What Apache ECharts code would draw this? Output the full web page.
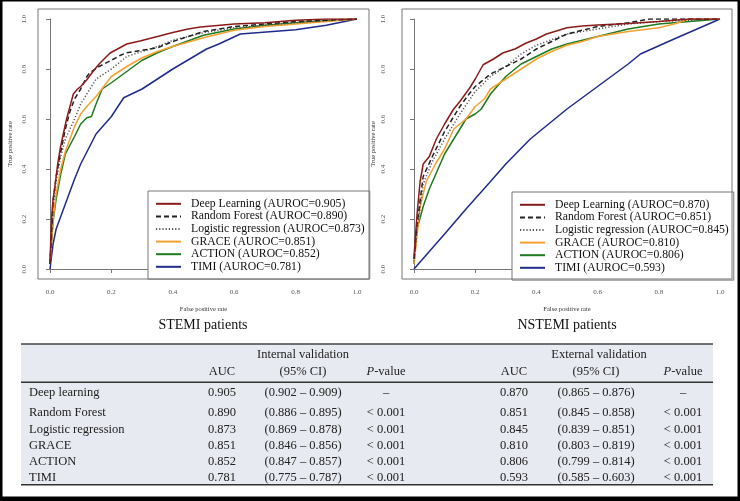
<!DOCTYPE html>
<html><head><meta charset="utf-8">
<script src="https://cdn.jsdelivr.net/npm/echarts@6/dist/echarts.min.js"></script>
<style>html,body{margin:0;padding:0;background:#fff}#c{width:740px;height:501px}</style>
</head><body><div id="c"></div>
<script>
// ---------- data ----------
const modelNames = ['Deep Learning','Random Forest','Logistic regression','GRACE','ACTION','TIMI'];
const stemiAuroc = [0.905, 0.890, 0.873, 0.851, 0.852, 0.781];
const nstemiAuroc = [0.870, 0.851, 0.845, 0.810, 0.806, 0.593];
const tickLabels = ['0.0','0.2','0.4','0.6','0.8','1.0'];

// ROC points [false positive rate, true positive rate]
const stemiDeep = [[0,0.03],[0.005,0.2],[0.01,0.28],[0.016,0.33],[0.025,0.42],[0.033,0.48],[0.045,0.55],[0.054,0.6],[0.065,0.65],[0.076,0.7],[0.09,0.72],[0.1,0.73],[0.12,0.757],[0.14,0.79],[0.16,0.82],[0.18,0.845],[0.196,0.864],[0.22,0.88],[0.25,0.9],[0.293,0.912],[0.35,0.93],[0.4,0.946],[0.45,0.96],[0.49,0.968],[0.6,0.98],[0.7,0.985],[0.8,0.995],[0.9,1.0],[1,1]];
const stemiRF = [[0,0.02],[0.01,0.27],[0.02,0.37],[0.035,0.47],[0.05,0.56],[0.065,0.63],[0.08,0.68],[0.1,0.72],[0.12,0.77],[0.13,0.785],[0.16,0.81],[0.2,0.835],[0.23,0.855],[0.25,0.865],[0.3,0.875],[0.35,0.885],[0.4,0.91],[0.45,0.93],[0.5,0.95],[0.6,0.97],[0.7,0.98],[0.8,0.99],[0.9,0.995],[1,1]];
const stemiLR = [[0,0.02],[0.01,0.25],[0.02,0.35],[0.035,0.45],[0.05,0.52],[0.08,0.6],[0.1,0.66],[0.12,0.7],[0.15,0.76],[0.2,0.8],[0.25,0.85],[0.3,0.87],[0.35,0.89],[0.4,0.915],[0.5,0.945],[0.6,0.965],[0.7,0.975],[0.8,0.985],[0.9,0.993],[1,1]];
const stemiGRACE = [[0,0.02],[0.01,0.2],[0.02,0.3],[0.035,0.4],[0.05,0.47],[0.08,0.57],[0.1,0.62],[0.12,0.65],[0.15,0.69],[0.2,0.77],[0.25,0.81],[0.3,0.845],[0.35,0.87],[0.4,0.89],[0.5,0.925],[0.6,0.955],[0.7,0.97],[0.8,0.98],[0.9,0.99],[1,1]];
const stemiACTION = [[0,0.02],[0.01,0.19],[0.02,0.28],[0.035,0.38],[0.05,0.46],[0.08,0.53],[0.1,0.58],[0.12,0.605],[0.135,0.61],[0.15,0.66],[0.17,0.72],[0.2,0.745],[0.25,0.79],[0.3,0.835],[0.35,0.865],[0.4,0.89],[0.5,0.935],[0.6,0.96],[0.7,0.975],[0.8,0.985],[0.9,0.993],[1,1]];
const stemiTIMI = [[0,0],[0.01,0.1],[0.02,0.16],[0.05,0.26],[0.08,0.36],[0.1,0.42],[0.15,0.54],[0.2,0.61],[0.24,0.685],[0.3,0.72],[0.4,0.8],[0.51,0.88],[0.55,0.9],[0.62,0.94],[0.8,0.957],[0.9,0.975],[1,1]];

const nstemiDeep = [[0,0.05],[0.01,0.22],[0.02,0.35],[0.03,0.42],[0.05,0.45],[0.073,0.52],[0.1,0.58],[0.128,0.637],[0.15,0.67],[0.182,0.724],[0.2,0.76],[0.226,0.817],[0.26,0.84],[0.29,0.864],[0.33,0.88],[0.367,0.904],[0.4,0.92],[0.433,0.94],[0.5,0.965],[0.55,0.972],[0.6,0.976],[0.7,0.982],[0.8,0.99],[0.9,1.0],[1,1]];
const nstemiRF = [[0,0.04],[0.01,0.18],[0.03,0.37],[0.06,0.45],[0.1,0.55],[0.15,0.65],[0.18,0.7],[0.2,0.73],[0.25,0.78],[0.3,0.81],[0.35,0.84],[0.4,0.88],[0.45,0.91],[0.5,0.94],[0.6,0.97],[0.7,0.985],[0.77,1.0],[1,1]];
const nstemiLR = [[0,0.03],[0.01,0.16],[0.03,0.34],[0.06,0.43],[0.1,0.52],[0.15,0.62],[0.2,0.71],[0.25,0.77],[0.3,0.81],[0.35,0.86],[0.4,0.895],[0.5,0.94],[0.6,0.96],[0.7,0.98],[0.8,0.99],[1,1]];
const nstemiGRACE = [[0,0.02],[0.02,0.25],[0.04,0.35],[0.07,0.42],[0.1,0.48],[0.13,0.56],[0.17,0.6],[0.2,0.65],[0.23,0.68],[0.25,0.72],[0.3,0.76],[0.35,0.8],[0.4,0.84],[0.45,0.87],[0.5,0.895],[0.55,0.91],[0.6,0.93],[0.7,0.95],[0.8,0.965],[0.85,0.98],[0.9,1.0],[1,1]];
const nstemiACTION = [[0,0.02],[0.01,0.16],[0.03,0.25],[0.05,0.32],[0.1,0.46],[0.13,0.52],[0.17,0.6],[0.2,0.62],[0.22,0.64],[0.25,0.7],[0.3,0.77],[0.35,0.82],[0.4,0.85],[0.45,0.88],[0.5,0.9],[0.6,0.93],[0.7,0.96],[0.8,0.98],[0.9,0.99],[1,1]];
const nstemiTIMI = [[0,0],[0.05,0.07],[0.1,0.14],[0.17,0.24],[0.25,0.35],[0.3,0.42],[0.38,0.52],[0.5,0.64],[0.6,0.73],[0.7,0.82],[0.74,0.86],[0.85,0.92],[1,1]];

// table
const tableModels = ['Deep learning','Random Forest','Logistic regression','GRACE','ACTION','TIMI'];
const intAUC = ['0.905','0.890','0.873','0.851','0.852','0.781'];
const intCI = ['(0.902 – 0.909)','(0.886 – 0.895)','(0.869 – 0.878)','(0.846 – 0.856)','(0.847 – 0.857)','(0.775 – 0.787)'];
const intP = ['–','< 0.001','< 0.001','< 0.001','< 0.001','< 0.001'];
const extAUC = ['0.870','0.851','0.845','0.810','0.806','0.593'];
const extCI = ['(0.865 – 0.876)','(0.845 – 0.858)','(0.839 – 0.851)','(0.803 – 0.819)','(0.799 – 0.814)','(0.585 – 0.603)'];
const extP = ['–','< 0.001','< 0.001','< 0.001','< 0.001','< 0.001'];

// ---------- styling ----------
const FONT = '"Liberation Serif","Times New Roman",serif';
const colors = ['#8b1a1a','#222222','#555555','#f5a030','#1e7a1e','#1f2a8c'];
const dash = ['solid',[5,3],[1.2,2],'solid','solid','solid'];
const stemiSets = [stemiDeep, stemiRF, stemiLR, stemiGRACE, stemiACTION, stemiTIMI];
const nstemiSets = [nstemiDeep, nstemiRF, nstemiLR, nstemiGRACE, nstemiACTION, nstemiTIMI];
const stemiNames = modelNames.map((m,i)=>m+' (AUROC='+stemiAuroc[i].toFixed(3)+')');
const nstemiNames = modelNames.map((m,i)=>m+' (AUROC='+nstemiAuroc[i].toFixed(3)+')');

const chart = echarts.init(document.getElementById('c'), null, {renderer:'canvas'});

function mkX(g){
  return {gridIndex:g, type:'value', min:0, max:1, interval:0.2, offset:10,
    axisLine:{show:true, lineStyle:{color:'#777', width:1}},
    axisTick:{show:true, length:4, lineStyle:{color:'#777'}},
    axisLabel:{color:'#555', fontSize:7, fontFamily:FONT, margin:10, formatter:(v)=>tickLabels[Math.round(v*5)]},
    splitLine:{show:false},
    name:'False positive rate', nameLocation:'middle', nameGap:27,
    nameTextStyle:{color:'#333', fontSize:6.5, fontFamily:FONT}};
}
function mkY(g, lm, ng){
  return {gridIndex:g, type:'value', min:0, max:1, interval:0.2, offset:12,
    axisLine:{show:true, lineStyle:{color:'#777', width:1}},
    axisTick:{show:true, length:4, lineStyle:{color:'#777'}},
    axisLabel:{color:'#555', fontSize:7, fontFamily:FONT, margin:lm, rotate:90, formatter:(v)=>tickLabels[Math.round(v*5)]},
    splitLine:{show:false},
    name:'True positive rate', nameLocation:'middle', nameGap:ng,
    nameTextStyle:{color:'#333', fontSize:6.5, fontFamily:FONT}};
}
function mkLegend(names, left, top){
  return {data:names, orient:'vertical', left:left, top:top, selectedMode:false,
    itemWidth:25, itemHeight:10, itemGap:0,
    itemStyle:{opacity:0, borderWidth:0},
    padding:[6.5,5,6,7], borderColor:'#777', borderWidth:1, backgroundColor:'#fff',
    textStyle:{fontFamily:FONT, fontSize:11.7, color:'#111', lineHeight:12.6, padding:[0,0,0,5]}};
}
const series = [];
[stemiSets, nstemiSets].forEach((sets, g)=>{
  sets.forEach((d,i)=>{
    series.push({type:'line', name:(g===0?stemiNames:nstemiNames)[i], xAxisIndex:g, yAxisIndex:g,
      data:d, symbol:'none', showSymbol:false, silent:true, z:10-i,
      lineStyle:{color:colors[i], width:1.5, type:dash[i]}, itemStyle:{color:colors[i]}});
  });
});

// ---------- table graphics ----------
const tbl = [];
const TF = '12.5px ' + FONT;
const TC = '#222';
function txt(x,y,t,align){ tbl.push({type:'text', x:x, y:y, style:{text:t, font:TF, fill:TC, align:align||'center', verticalAlign:'middle'}}); }
function ptxt(x,y){ tbl.push({type:'text', x:x, y:y, style:{text:'{i|P}-value', font:TF, fill:TC, align:'center', verticalAlign:'middle', rich:{i:{fontStyle:'italic', font:'italic 12.5px '+FONT, fill:TC}}}}); }
tbl.push({type:'rect', shape:{x:21, y:344, width:692, height:141}, style:{fill:'#e8eaf2'}});
tbl.push({type:'rect', shape:{x:21, y:343.2, width:692, height:1.6}, style:{fill:'#444'}});
tbl.push({type:'rect', shape:{x:21, y:381.5, width:692, height:1.4}, style:{fill:'#333'}});
tbl.push({type:'rect', shape:{x:21, y:484, width:692, height:1.4}, style:{fill:'#333'}});
const colX = {name:29, iA:222, iC:303, iP:386, eA:514, eC:596, eP:683};
txt(303, 355, 'Internal validation'); txt(599, 355, 'External validation');
txt(colX.iA, 372, 'AUC'); txt(colX.iC, 372, '(95% CI)'); ptxt(colX.iP, 372);
txt(colX.eA, 372, 'AUC'); txt(colX.eC, 372, '(95% CI)'); ptxt(colX.eP, 372);
tableModels.forEach((m,i)=>{
  const y = i===0 ? 393 : 413 + (i-1)*16.3;
  txt(colX.name, y, m, 'left');
  txt(colX.iA, y, intAUC[i]); txt(colX.iC, y, intCI[i]); txt(colX.iP, y, intP[i]);
  txt(colX.eA, y, extAUC[i]); txt(colX.eC, y, extCI[i]); txt(colX.eP, y, extP[i]);
});

const graphics = [
  // plot frames
  {type:'rect', shape:{x:38, y:9, width:331, height:270}, style:{fill:'none', stroke:'#777', lineWidth:1}, z:50},
  {type:'rect', shape:{x:402, y:9, width:330, height:270}, style:{fill:'none', stroke:'#777', lineWidth:1}, z:50},
  // panel titles
  {type:'text', x:203, y:325, style:{text:'STEMI patients', font:'14px '+FONT, fill:'#111', align:'center', verticalAlign:'middle'}},
  {type:'text', x:567, y:325, style:{text:'NSTEMI patients', font:'14px '+FONT, fill:'#111', align:'center', verticalAlign:'middle'}},
  // outer black border
  {type:'rect', shape:{x:0, y:0, width:740, height:1.5}, style:{fill:'#000'}, z:60},
  {type:'rect', shape:{x:0, y:0, width:2.5, height:501}, style:{fill:'#000'}, z:60},
  {type:'rect', shape:{x:737.5, y:0, width:2.5, height:501}, style:{fill:'#000'}, z:60},
  {type:'rect', shape:{x:0, y:496.5, width:740, height:4.5}, style:{fill:'#000'}, z:60}
].concat(tbl);

chart.setOption({
  animation:false,
  backgroundColor:'#fff',
  grid:[{left:50, top:19, width:307, height:250},{left:414, top:19, width:306, height:250}],
  xAxis:[mkX(0), mkX(1)],
  yAxis:[mkY(0, 10, 24), mkY(1, 15, 25)],
  legend:[mkLegend(stemiNames, 148, 191), mkLegend(nstemiNames, 512, 192)],
  series: series,
  graphic: graphics
});
</script></body></html>
